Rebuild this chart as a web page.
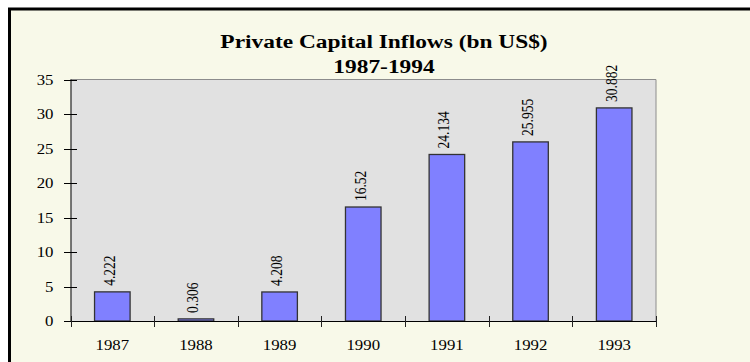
<!DOCTYPE html>
<html>
<head>
<meta charset="utf-8">
<script src="https://cdn.jsdelivr.net/npm/d3@7"></script>
<style>
  body { margin: 0; background: #fff; }
  svg text { font-family: "Liberation Serif", "Times New Roman", serif; fill: #000; }
</style>
</head>
<body>
<div id="container"></div>
<script>
const years = ["1987", "1988", "1989", "1990", "1991", "1992", "1993"];
const inflows = [4.222, 0.306, 4.208, 16.52, 24.134, 25.955, 30.882];
const yTicks = [0, 5, 10, 15, 20, 25, 30, 35];
const titleLines = ["Private Capital Inflows (bn US$)", "1987-1994"];

document.addEventListener("DOMContentLoaded", () => {
  const w = 750;
  const h = 362;
  // plot area
  const left = 70.5;
  const right = 656;
  const top = 79.5;
  const bottom = 321;
  const stretch = 1.2; // text in the original is a bit wide

  const data = years.map((y, i) => ({ year: y, value: inflows[i] }));

  const svg = d3.
  select("#container").
  append("svg").
  attr("width", w).
  attr("height", h);

  // chart background + frame
  svg.
  append("rect").
  attr("x", 9.5).
  attr("y", 9).
  attr("width", 800).
  attr("height", 400).
  attr("fill", "#F8F9E9").
  attr("stroke", "#000").
  attr("stroke-width", 3);

  const xScale = d3.
  scaleBand().
  domain(years).
  range([left, right]).
  paddingInner(0.575).
  paddingOuter(0.2875);

  const yScale = d3.
  scaleLinear().
  domain([0, 35]).
  range([bottom, top]);

  // plot background
  svg.
  append("rect").
  attr("x", left).
  attr("y", top).
  attr("width", right - left).
  attr("height", bottom - top).
  attr("fill", "#E1E1E1");

  svg.
  append("path").
  attr("d", `M${left},${top}H${right}V${bottom}`).
  attr("fill", "none").
  attr("stroke", "#8C8C8C").
  attr("stroke-width", 1);

  // bars
  svg.
  selectAll("rect.bar").
  data(data).
  enter().
  append("rect").
  attr("class", "bar").
  attr("x", d => xScale(d.year)).
  attr("y", d => yScale(d.value)).
  attr("width", xScale.bandwidth()).
  attr("height", d => bottom - yScale(d.value)).
  attr("fill", "#8080FF").
  attr("stroke", "#333").
  attr("stroke-width", 1.3);

  // value labels, rotated
  svg.
  selectAll("text.val").
  data(data).
  enter().
  append("text").
  attr("class", "val").
  attr("transform", d =>
  `translate(${xScale(d.year) + xScale.bandwidth() / 2 + 2.5},${yScale(d.value) - 6}) scale(${stretch},1) rotate(-90)`).
  style("font-size", "13.5px").
  style("text-anchor", "start").
  text(d => d.value);

  // y axis
  svg.
  append("line").
  attr("x1", left + 0.5).
  attr("x2", left + 0.5).
  attr("y1", top).
  attr("y2", bottom).
  attr("stroke", "#000");

  svg.
  selectAll("line.ytick").
  data(yTicks).
  enter().
  append("line").
  attr("class", "ytick").
  attr("x1", left - 6.5).
  attr("x2", left + 6.5).
  attr("y1", d => Math.round(yScale(d)) + 0.5).
  attr("y2", d => Math.round(yScale(d)) + 0.5).
  attr("stroke", "#000");

  svg.
  selectAll("text.ylab").
  data(yTicks).
  enter().
  append("text").
  attr("class", "ylab").
  attr("transform", d => `translate(53.5,${yScale(d) + 5}) scale(${stretch},1)`).
  style("font-size", "14px").
  style("text-anchor", "end").
  text(d => d);

  // x axis
  svg.
  append("line").
  attr("x1", left).
  attr("x2", right).
  attr("y1", bottom + 0.5).
  attr("y2", bottom + 0.5).
  attr("stroke", "#000");

  const bounds = d3.range(years.length + 1).map(i => left + i * xScale.step());

  svg.
  selectAll("line.xtick").
  data(bounds).
  enter().
  append("line").
  attr("class", "xtick").
  attr("x1", d => Math.round(d) + 0.5).
  attr("x2", d => Math.round(d) + 0.5).
  attr("y1", bottom - 5).
  attr("y2", bottom + 6).
  attr("stroke", "#222");

  svg.
  selectAll("text.xlab").
  data(years).
  enter().
  append("text").
  attr("class", "xlab").
  attr("transform", d => `translate(${xScale(d) + xScale.bandwidth() / 2},350) scale(${stretch},1)`).
  style("font-size", "14px").
  style("text-anchor", "middle").
  text(d => d);

  // title
  svg.
  selectAll("text.title").
  data(titleLines).
  enter().
  append("text").
  attr("class", "title").
  attr("transform", (d, i) => `translate(384,${48 + i * 25}) scale(${stretch},1)`).
  style("font-size", "19.5px").
  style("font-weight", "bold").
  style("text-anchor", "middle").
  text(d => d);
});
</script>
</body>
</html>
